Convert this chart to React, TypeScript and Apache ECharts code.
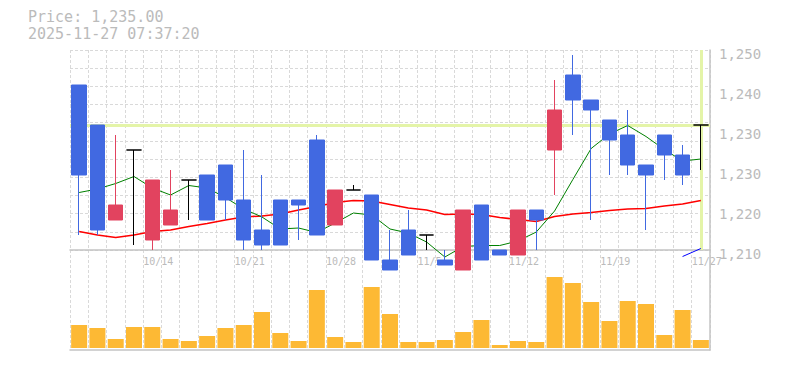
import React, { useEffect, useRef } from 'react';
import * as echarts from 'echarts';

// ---- data ----
const dates = ['10/7','10/8','10/9','10/10','10/14','10/15','10/16','10/17','10/20','10/21','10/22','10/23','10/24','10/27','10/28','10/29','10/30','10/31','11/4','11/5','11/6','11/7','11/10','11/11','11/12','11/13','11/14','11/17','11/18','11/19','11/20','11/21','11/25','11/26','11/27'];
const openPrices = [1243,1235,1216,1230,1212,1215,1224,1225,1227,1220,1214,1220,1220,1232,1215,1222,1221,1208,1214,1213,1208,1206,1219,1210,1209,1218,1230,1245,1240,1236,1233,1227,1233,1229,1235];
const closePrices = [1225,1214,1219,1230,1224,1218,1224,1216,1220,1212,1211,1211,1219,1213,1222,1222,1208,1206,1209,1213,1207,1218,1208,1209,1218,1216,1238,1240,1238,1232,1227,1225,1229,1225,1235];
const lowPrices = [1213,1213,1216,1211,1210,1215,1216,1216,1216,1210,1210,1211,1212,1213,1215,1222,1208,1206,1209,1210,1207,1206,1208,1209,1209,1210,1221,1233,1216,1225,1225,1214,1224,1223,1226];
const highPrices = [1243,1235,1233,1230,1224,1226,1224,1225,1227,1230,1225,1220,1220,1233,1222,1223,1221,1214,1218,1213,1210,1218,1219,1210,1218,1218,1244,1249,1240,1236,1238,1227,1233,1231,1235];
const ma5 = [1221.5,1222.2,1223.3,1224.7,1222.4,1221,1222.9,1222.4,1220.5,1218.2,1216.6,1214.2,1214.4,1213.5,1215.4,1217.4,1217,1214.2,1213.4,1211.6,1208.6,1210.7,1210.9,1210.9,1211.8,1213.6,1217.8,1224.1,1230.3,1233.2,1234.9,1232.7,1230.1,1227.8,1228.2];
const ma25 = [1213.7,1213,1212.5,1213,1213.7,1214,1214.7,1215.3,1216,1216.6,1216.8,1217.2,1218,1218.7,1219.5,1219.9,1219.8,1219.1,1218.4,1218,1217.1,1217.2,1217.1,1216.5,1216.1,1215.7,1216.7,1217.2,1217.5,1217.9,1218.2,1218.3,1218.8,1219.2,1219.9];
const ma75: (number | string)[] = ['-','-','-','-','-','-','-','-','-','-','-','-','-','-','-','-','-','-','-','-','-','-','-','-','-','-','-','-','-','-','-','-','-',1208.7,1210.3];
const volumes = [23,20,9,21,21,9,7,12,20,23,36,15,7,58,11,6,61,34,6,6,8,16,28,3,7,6,71,65,46,27,47,44,13,38,8];
const labelIndices = [4,9,14,19,24,29,34];
const priceTicks = { min: 1210, max: 1250, step: 8 };
const currentPrice = 1235;
const timestamp = '2025-11-27 07:37:20';

const RED = '#e2435f';
const BLUE = '#4169e1';
const GRID = '#d9d9d9';
const AXIS = '#c4c4c4';
const TEXT = '#bbbbbb';
const MONO = '"DejaVu Sans Mono", monospace';

const candleData = dates.map((_, i) => {
  const v = [openPrices[i], closePrices[i], lowPrices[i], highPrices[i]];
  if (openPrices[i] === closePrices[i]) {
    return {
      value: v,
      itemStyle: { color: '#000', color0: '#000', borderColor: '#000', borderColor0: '#000', borderColorDoji: '#000' },
    };
  }
  return { value: v };
});

const dashed = { show: true, interval: 0, lineStyle: { color: GRID, type: [3, 2], width: 1 } };

const priceText =
  'Price: ' + currentPrice.toLocaleString('en-US', { minimumFractionDigits: 2, maximumFractionDigits: 2 });

const option: any = {
  animation: false,
  backgroundColor: '#ffffff',
  grid: [
    { left: 70, right: 75, top: 50, height: 200, containLabel: false, outerBoundsMode: 'none' },
    { left: 70, right: 75, top: 250, height: 100, containLabel: false, outerBoundsMode: 'none' },
  ],
  graphic: [
    { type: 'text', left: 28, top: 9, style: { text: priceText, fontSize: 15, fontFamily: MONO, fill: TEXT } },
    { type: 'text', left: 28, top: 26.7, style: { text: timestamp, fontSize: 15, fontFamily: MONO, fill: TEXT } },
  ],
  xAxis: [
    {
      type: 'category', gridIndex: 0, data: dates, boundaryGap: true,
      axisLine: { show: true, onZero: false, lineStyle: { color: AXIS, width: 1.5 } },
      axisTick: { show: false }, axisLabel: { show: false }, splitLine: dashed,
    },
    {
      type: 'category', gridIndex: 1, data: dates, boundaryGap: true,
      axisLine: { show: true, onZero: false, lineStyle: { color: AXIS, width: 1.5 } },
      axisTick: { show: false }, axisLabel: { show: false }, splitLine: dashed,
    },
    {
      type: 'value', gridIndex: 0, min: 0, max: dates.length, position: 'bottom',
      axisLine: { show: false, onZero: false }, axisTick: { show: false }, splitLine: { show: false },
      axisLabel: {
        customValues: labelIndices,
        formatter: (v: number) => dates[Math.round(v)] ?? '',
        align: 'left', margin: 6, color: TEXT, fontFamily: MONO, fontSize: 10,
      },
    },
  ],
  yAxis: [
    {
      type: 'value', gridIndex: 0, position: 'right', min: priceTicks.min, max: priceTicks.max, interval: priceTicks.step,
      axisLine: { show: true, onZero: false, lineStyle: { color: AXIS, width: 1.5 } },
      axisTick: { show: false }, splitLine: { show: false },
      axisLabel: {
        formatter: (v: number) => (Math.round(v / 10) * 10).toLocaleString('en-US'),
        color: TEXT, fontFamily: MONO, fontSize: 14, margin: 9, verticalAlign: 'top', lineHeight: 7,
      },
    },
    {
      type: 'value', gridIndex: 0, position: 'left', min: 0, max: 11, interval: 1,
      axisLine: { show: false, onZero: false }, axisTick: { show: false }, axisLabel: { show: false },
      splitLine: { show: true, lineStyle: { color: GRID, type: [3, 2], width: 1 } },
    },
    {
      type: 'value', gridIndex: 1, position: 'right', min: -2, max: 98,
      axisLine: { show: true, onZero: false, lineStyle: { color: AXIS, width: 1.5 } },
      axisTick: { show: false }, axisLabel: { show: false }, splitLine: { show: false },
    },
  ],
  series: [
    {
      type: 'line', xAxisIndex: 0, yAxisIndex: 0, data: dates.map(() => '-'), symbol: 'none', z: 1, silent: true,
      markLine: {
        silent: true, symbol: 'none', z: 1, label: { show: false },
        lineStyle: { color: '#e4f4a8', width: 3, type: 'solid' },
        emphasis: { disabled: true },
        data: [{ yAxis: currentPrice }, { xAxis: dates[dates.length - 1] }],
      },
    },
    {
      type: 'line', xAxisIndex: 0, yAxisIndex: 0, data: ma25, symbol: 'none', showSymbol: false, clip: false, z: 5, silent: true,
      lineStyle: { color: '#ff0000', width: 1.5 }, itemStyle: { color: '#ff0000' },
    },
    {
      type: 'line', xAxisIndex: 0, yAxisIndex: 0, data: ma5, symbol: 'none', showSymbol: false, clip: false, z: 5, silent: true,
      lineStyle: { color: '#008000', width: 1 }, itemStyle: { color: '#008000' },
    },
    {
      type: 'line', xAxisIndex: 0, yAxisIndex: 0, data: ma75, symbol: 'none', showSymbol: false, clip: false, z: 5, silent: true,
      lineStyle: { color: '#0000ff', width: 1 }, itemStyle: { color: '#0000ff' },
    },
    {
      type: 'candlestick', xAxisIndex: 0, yAxisIndex: 0, data: candleData, barWidth: 15, clip: false, z: 10, silent: true,
      itemStyle: { color: RED, color0: BLUE, borderColor: RED, borderColor0: BLUE, borderWidth: 1 },
    },
    {
      type: 'bar', xAxisIndex: 1, yAxisIndex: 2, data: volumes, barWidth: 16, silent: true,
      itemStyle: { color: '#fdb934' },
    },
  ],
};

export default function App() {
  const ref = useRef<HTMLDivElement>(null);
  useEffect(() => {
    if (!ref.current) return;
    const chart = echarts.init(ref.current, null, { renderer: 'svg' });
    chart.setOption(option);
    return () => chart.dispose();
  }, []);
  return <div ref={ref} style={{ position: 'absolute', left: 0, top: 0, width: 785, height: 370, background: '#fff' }} />;
}
